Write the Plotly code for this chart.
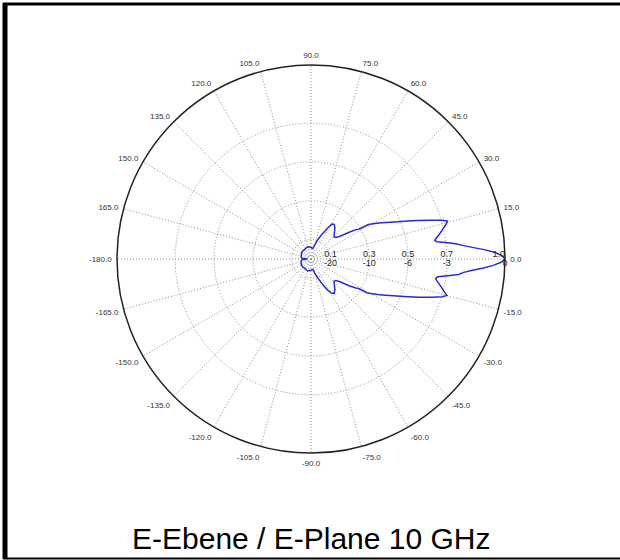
import plotly.graph_objects as go

# ---- data ----
theta_deg = [
    -180, -178, -176, -172, -165, -155, -145, -135, -125, -115, -105, -95, -85,
    -80, -75, -70, -66, -62, -59, -56, -52, -48, -44, -41, -38, -35, -33, -32, -31,
    -30, -28, -26, -24, -22, -19.5, -17.5, -16, -15, -14, -12, -10, -8.8, -8, -7, -6,
    -5, -4, -3, -2, -1, 0,
    1, 2, 3, 4, 5, 6, 7, 7.8, 8.5, 9.5, 11, 13, 14.5, 15.5, 16.5, 18, 20, 22, 24, 26,
    28, 30, 31, 32, 33, 35, 38, 41, 44, 48, 52, 56, 59, 62, 66, 70, 75, 80,
    85, 95, 105, 115, 125, 135, 145, 155, 165, 172, 176, 178, 180,
]
r_amp = [
    0.020, 0.030, 0.045, 0.050, 0.053, 0.056, 0.058, 0.060, 0.057, 0.061, 0.064, 0.060, 0.056,
    0.055, 0.075, 0.105, 0.140, 0.180, 0.205, 0.215, 0.200, 0.180, 0.165, 0.170, 0.190, 0.240, 0.275, 0.285, 0.340,
    0.355, 0.390, 0.425, 0.465, 0.515, 0.590, 0.655, 0.705, 0.725, 0.710, 0.685, 0.660, 0.650, 0.660, 0.710, 0.765,
    0.790, 0.835, 0.890, 0.940, 0.980, 1.000,
    0.985, 0.950, 0.900, 0.840, 0.790, 0.750, 0.700, 0.655, 0.645, 0.655, 0.675, 0.700, 0.720, 0.730, 0.705, 0.645, 0.580, 0.520, 0.470, 0.430,
    0.395, 0.360, 0.345, 0.290, 0.280, 0.240, 0.190, 0.170, 0.165, 0.180, 0.200, 0.215, 0.210, 0.180, 0.140, 0.110, 0.075, 0.055,
    0.057, 0.062, 0.065, 0.062, 0.058, 0.060, 0.058, 0.055, 0.052, 0.050, 0.040, 0.025, 0.020,
]

angle_ticks = list(range(0, 360, 15))
angle_labels = [f"{(a if a < 180 else a - 360):.1f}" for a in angle_ticks]

ring_values = [0.1, 0.3, 0.5, 0.7, 1.0]
ring_amp_labels = ["0.1", "0.3", "0.5", "0.7", "1.0"]
ring_db_labels = ["-20", "-10", "-6", "-3", "0"]

title_text = "E-Ebene / E-Plane 10 GHz"

# ---- figure ----
W, H = 620, 560
cx, cy, R = 311, 259, 194
FONT = "Liberation Sans, Arial"

fig = go.Figure()

fig.add_trace(go.Scatterpolar(
    r=r_amp, theta=theta_deg, mode="lines",
    line=dict(color="#2b2bd6", width=1.5),
    showlegend=False, hoverinfo="skip",
))

fig.add_trace(go.Scatterpolar(
    r=ring_values, theta=[0] * len(ring_values), mode="text",
    text=ring_amp_labels,
    textposition=["top center"] * 4 + ["top left"],
    textfont=dict(family=FONT, size=9, color="#222"),
    showlegend=False, hoverinfo="skip", cliponaxis=False,
))
fig.add_trace(go.Scatterpolar(
    r=ring_values, theta=[0] * len(ring_values), mode="text",
    text=ring_db_labels,
    textposition=["bottom center"] * 5,
    textfont=dict(family=FONT, size=9, color="#222"),
    showlegend=False, hoverinfo="skip", cliponaxis=False,
))

fig.update_layout(
    width=W, height=H,
    margin=dict(l=0, r=0, t=0, b=0),
    paper_bgcolor="white",
    polar=dict(
        domain=dict(x=[(cx - R) / W, (cx + R) / W], y=[1 - (cy + R) / H, 1 - (cy - R) / H]),
        bgcolor="white",
        radialaxis=dict(
            range=[0, 1], tickvals=ring_values[:-1], showticklabels=False,
            ticks="", showline=False, gridcolor="#8c8c8c", griddash="1px,2px", gridwidth=1,
        ),
        angularaxis=dict(
            rotation=0, direction="counterclockwise",
            tickvals=angle_ticks, ticktext=angle_labels,
            ticks="outside", ticklen=3, tickcolor="rgba(0,0,0,0)",
            showline=True, linecolor="#222", linewidth=1.5,
            gridcolor="#8c8c8c", griddash="1px,2px", gridwidth=1,
            tickfont=dict(family=FONT, size=8, color="#333"),
        ),
    ),
    annotations=[dict(
        text=title_text, x=cx / W, y=1 - 538 / H, xref="paper", yref="paper",
        xanchor="center", yanchor="middle", showarrow=False,
        font=dict(family=FONT, size=30, color="#000"),
    )],
    shapes=[
        dict(type="line", xref="paper", yref="paper", x0=3 / W, x1=1, y0=1 - 4 / H, y1=1 - 4 / H,
             line=dict(color="black", width=3)),
        dict(type="line", xref="paper", yref="paper", x0=5 / W, x1=5 / W, y0=1 - 3 / H, y1=1 - 559 / H,
             line=dict(color="black", width=5)),
        dict(type="line", xref="paper", yref="paper", x0=3 / W, x1=1, y0=1 - 558.5 / H, y1=1 - 558.5 / H,
             line=dict(color="black", width=2)),
    ],
)

fig.write_html(
    "out.html",
    config={"displayModeBar": False},
    post_script="document.body.style.margin='0';document.body.style.overflow='hidden';",
)
